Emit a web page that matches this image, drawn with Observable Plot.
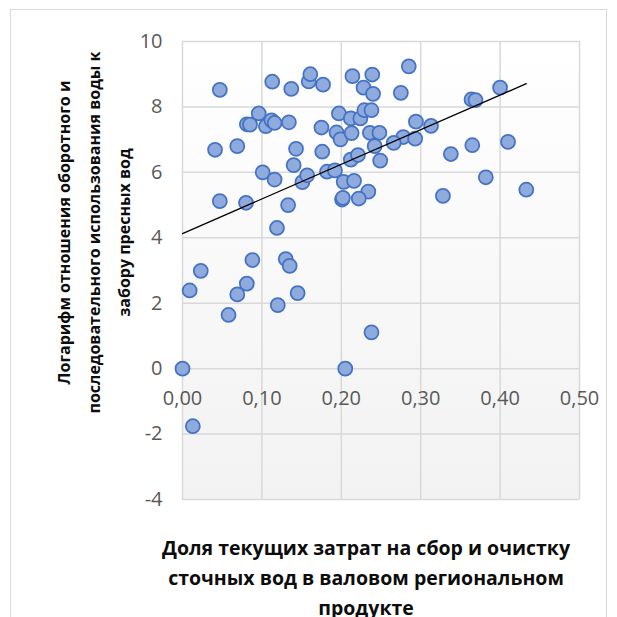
<!DOCTYPE html>
<html><head><meta charset="utf-8">
<script src="https://cdn.jsdelivr.net/npm/d3@7"></script>
<script src="https://cdn.jsdelivr.net/npm/@observablehq/plot@0.6"></script>
<style>
body{margin:0;background:#fff;}
#wrap{position:relative;width:617px;height:617px;overflow:hidden;}
#chart{position:absolute;left:0;top:0;}
#border{position:absolute;left:10px;top:9px;width:597px;height:640px;border:1.5px solid #d9d9d9;box-sizing:border-box;pointer-events:none;z-index:2;}
</style></head><body>
<div id="wrap"><div id="chart"></div><div id="border"></div></div>
<script>
// Share of current wastewater costs in GRP (x) and log of recycled/reused water to freshwater intake (y)
const shareX = [0.047,0.113,0.137,0.159,0.161,0.177,0.214,0.239,0.228,0.240,0.285,0.275,0.400,0.364,0.369,
  0.096,0.081,0.085,0.105,0.112,0.116,0.134,0.197,0.212,0.224,0.229,0.238,0.175,0.194,0.199,0.213,0.236,0.248,
  0.294,0.313,0.278,0.266,0.293,0.041,0.069,0.143,0.176,0.212,0.221,0.242,0.249,0.338,0.365,0.410,0.140,
  0.101,0.116,0.151,0.157,0.182,0.192,0.203,0.216,0.234,0.382,0.433,0.328,0.047,0.080,0.133,0.201,0.202,0.222,
  0.119,0.088,0.023,0.130,0.135,0.009,0.081,0.069,0.145,0.120,0.058,0.238,0.000,0.205,0.013];
const logRatioY = [8.52,8.77,8.55,8.78,9.00,8.68,8.94,8.99,8.59,8.40,9.24,8.43,8.59,8.23,8.21,
  7.80,7.47,7.46,7.41,7.59,7.51,7.53,7.80,7.65,7.65,7.90,7.90,7.37,7.22,7.01,7.20,7.21,7.21,
  7.55,7.42,7.08,6.90,7.03,6.69,6.80,6.72,6.63,6.39,6.53,6.80,6.36,6.56,6.83,6.93,6.22,
  6.00,5.78,5.70,5.91,6.02,6.06,5.71,5.74,5.41,5.85,5.47,5.28,5.12,5.07,5.00,5.17,5.22,5.20,
  4.30,3.32,2.99,3.35,3.14,2.39,2.60,2.27,2.31,1.94,1.64,1.11,0.00,0.00,-1.76];
const trendX = [0, 0.433];
const trendY = [4.13, 8.71];
const xTicks = [0, 0.1, 0.2, 0.3, 0.4, 0.5];
const xTickLabels = ["0,00", "0,10", "0,20", "0,30", "0,40", "0,50"];
const yTicks = [-4, -2, 0, 2, 4, 6, 8, 10];
const yTickLabels = ["-4", "-2", "0", "2", "4", "6", "8", "10"];
const yTitle = "Логарифм отношения оборотного и\nпоследовательного использования воды к\nзабору пресных вод";
const xTitle = "Доля текущих затрат на сбор и очистку\nсточных вод в валовом региональном\nпродукте";

const points = shareX.map((x, i) => ({x, y: logRatioY[i]}));
const trend = trendX.map((x, i) => ({x, y: trendY[i]}));
const xLabels = xTicks.map((v, i) => ({v, label: xTickLabels[i]}));

const font = "'Open Sans', 'Liberation Sans', sans-serif";
const chart = Plot.plot({
  width: 617, height: 617,
  marginLeft: 182, marginRight: 38, marginTop: 41, marginBottom: 118,
  style: {fontFamily: font, background: "transparent"},
  x: {domain: [0, 0.5], axis: null},
  y: {domain: [-4, 10]},
  marks: [
    Plot.frame({fill: "url(#plotBg)", stroke: "none"}),
    Plot.gridX(xTicks, {stroke: "#d9d9d9", strokeOpacity: 1, strokeWidth: 1.5}),
    Plot.gridY(yTicks, {stroke: "#d9d9d9", strokeOpacity: 1, strokeWidth: 1.5}),
    Plot.axisY(yTicks, {tickSize: 0, tickPadding: 20, tickFormat: (d, i) => yTickLabels[i], fontSize: 20, color: "#595959", label: null}),
    Plot.text(xLabels, {x: "v", y: () => 0, text: "label", dy: 30, fontSize: 20, fill: "#595959"}),
    Plot.dot(points, {x: "x", y: "y", r: 7, fill: "#8faadc", stroke: "#4472c4", strokeWidth: 1.75}),
    Plot.line(trend, {x: "x", y: "y", stroke: "#000", strokeWidth: 1.3}),
    Plot.text([yTitle], {text: d => d, frameAnchor: "left", textAnchor: "middle", rotate: -90, dx: -92, dy: -38, lineAnchor: "middle", lineHeight: 1.875, fontSize: 16, fontWeight: "bold", fill: "#0d0d0d"}),
    Plot.text([xTitle], {text: d => d, frameAnchor: "bottom", textAnchor: "middle", dx: -15, dy: 76, lineAnchor: "middle", lineHeight: 1.54, fontSize: 19.5, fontWeight: "bold", fill: "#0d0d0d"})
  ]
});
d3.select(chart).insert("defs", ":first-child").html(
  '<linearGradient id="plotBg" x1="0" y1="0" x2="0" y2="1"><stop offset="0" stop-color="#ffffff"/><stop offset="1" stop-color="#f2f2f2"/></linearGradient>');
document.getElementById("chart").appendChild(chart);
</script>
</body></html>
